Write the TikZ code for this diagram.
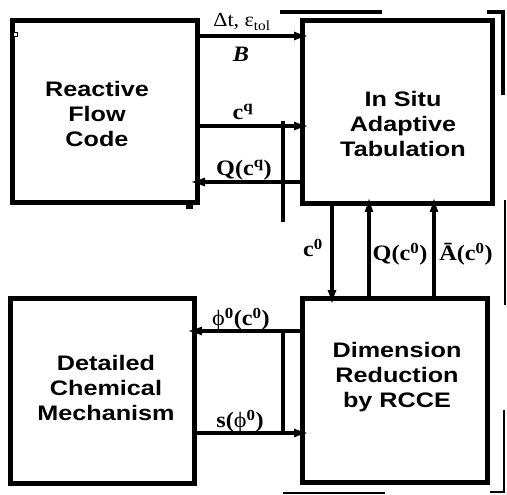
\documentclass[tikz,border=0pt]{standalone}
\usepackage{fontspec}
\setmainfont{Liberation Serif}[FakeStretch=1.1]
\newfontfamily\hv{Liberation Sans}[FakeStretch=1.2]
\usetikzlibrary{arrows.meta}
\begin{document}
\begin{tikzpicture}[x=1pt,y=-1pt,
  box/.style={draw,line width=5pt,inner sep=0pt,outer sep=0pt},
  boxtxt/.style={font=\hv\bfseries\fontsize{21}{25}\selectfont,align=center,inner sep=0pt},
  lbl/.style={font=\fontsize{22}{24}\selectfont\bfseries,inner sep=0pt},
  plainlbl/.style={font=\fontsize{20}{22}\selectfont,inner sep=0pt},
  conn/.style={line width=4pt,-{Latex[length=17pt,width=9pt]},shorten >=-9pt},
  art/.style={line width=4pt},
  thin/.style={line width=2.5pt}]
\useasboundingbox (0,0) rectangle (507,495);
% boxes
\node[box,minimum width=185pt,minimum height=182pt] (rfc) at (104.5,112) {};
\node[box,minimum width=190pt,minimum height=183pt] (isat) at (397,112.5) {};
\node[box,minimum width=185pt,minimum height=184pt] (dr) at (394.5,390) {};
\node[box,minimum width=184pt,minimum height=185pt] (dcm) at (102,390.5) {};
% box texts
\node[boxtxt] (t1) at (97,114) {Reactive\\Flow\\Code};
\node[boxtxt] (t2) at (403,124) {In Situ\\Adaptive\\Tabulation};
\node[boxtxt] (t3) at (397,377) {Dimension\\Reduction\\by RCCE};
\node[boxtxt] (t4) at (106,388) {Detailed\\Chemical\\Mechanism};
% level coordinates
\coordinate (yA) at (0,36);
\coordinate (yB) at (0,126);
\coordinate (yC) at (0,182);
\coordinate (yD) at (0,331);
\coordinate (yE) at (0,433);
\coordinate (xA) at (332,0);
\coordinate (xB) at (369,0);
\coordinate (xC) at (434,0);
% horizontal connectors
\draw[conn] (rfc.east |- yA) -- (isat.west |- yA);
\draw[conn] (rfc.east |- yB) -- (isat.west |- yB);
\draw[conn] (isat.west |- yC) -- (rfc.east |- yC);
\draw[conn] (dr.west |- yD) -- (dcm.east |- yD);
\draw[conn] (dcm.east |- yE) -- (dr.west |- yE);
% vertical connectors
\draw[conn] (isat.south -| xA) -- (dr.north -| xA);
\draw[conn] (dr.north -| xB) -- (isat.south -| xB);
\draw[conn] (dr.north -| xC) -- (isat.south -| xC);
% labels
\node[plainlbl] (l1) at (242,22) {Δt, ε\textsubscript{tol}};
\node[lbl] (l2) at (241,54) {\textit{B}};
\node[lbl] (l3) at (243,112) {c\textsuperscript{q}};
\node[lbl] (l4) at (244,170) {Q(c\textsuperscript{q})};
\node[lbl] (l5) at (313,248) {c\textsuperscript{0}};
\node[lbl] (l6) at (400,254) {Q(c\textsuperscript{0})};
\node[lbl] (l7) at (466,254) {Ā(c\textsuperscript{0})};
\node[lbl] (l8) at (241,319) {{\mdseries ϕ}\textsuperscript{0}(c\textsuperscript{0})};
\node[lbl] (l9) at (240,421) {s({\mdseries ϕ}\textsuperscript{0})};
% stray strokes of the original
\draw[art] (283,121) -- (283,222);
\draw[art] (283,330) -- (283,435);
\draw[art] (280,12) -- (382,12);
\draw[art] (487,12) -- (503,12) -- (503,95);
\draw[thin] (505,200) -- (505,305);
\draw[thin] (504,410) -- (504,492) -- (490,492);
\draw[thin] (283,493) -- (385,493);
\draw[fill=white,line width=0.8pt] (13.5,32.5) rectangle (17.5,36.5);
\fill (186,205) rectangle (193,209);
\end{tikzpicture}
\end{document}
